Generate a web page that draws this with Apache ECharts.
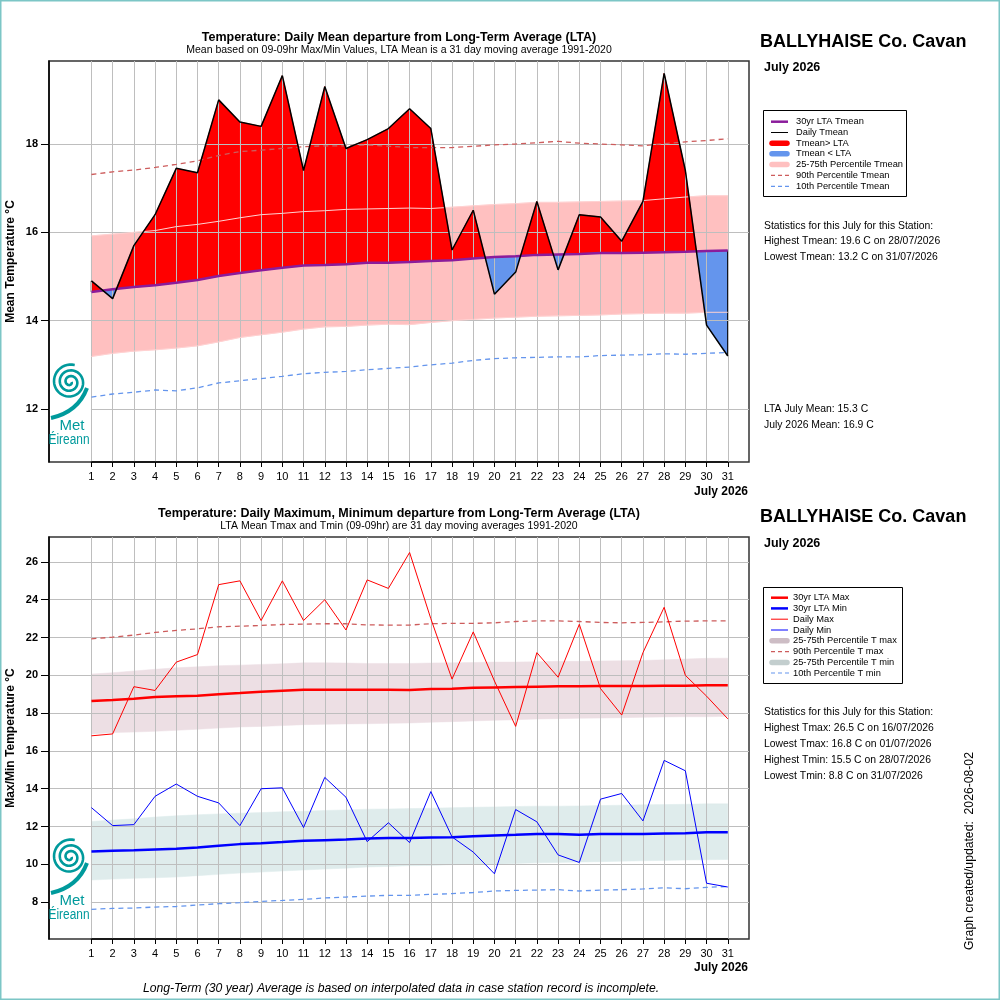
<!DOCTYPE html>
<html><head><meta charset="utf-8">
<script src="https://cdn.jsdelivr.net/npm/echarts@6/dist/echarts.min.js"></script>
<style>html,body{margin:0;padding:0;background:#fff}#c{width:1000px;height:1000px}</style>
</head><body><div id="c"></div>
<script>
// ---------------- DATA ----------------
const days = [1,2,3,4,5,6,7,8,9,10,11,12,13,14,15,16,17,18,19,20,21,22,23,24,25,26,27,28,29,30,31];

const tmeanDaily = [14.9,14.5,15.7,16.4,17.45,17.35,19.0,18.5,18.4,19.55,17.4,19.3,17.9,18.1,18.35,18.8,18.35,15.6,16.5,14.6,15.1,16.7,15.15,16.4,16.35,15.8,16.7,19.6,17.4,13.9,13.2];
const tmeanLTA = [14.65,14.71,14.76,14.80,14.86,14.92,15.01,15.08,15.14,15.20,15.25,15.26,15.28,15.31,15.31,15.33,15.35,15.37,15.41,15.44,15.46,15.49,15.50,15.51,15.53,15.53,15.54,15.55,15.56,15.58,15.59];
const tmeanP75 = [15.92,15.96,16.0,16.04,16.13,16.18,16.25,16.33,16.40,16.43,16.47,16.49,16.52,16.53,16.54,16.55,16.54,16.57,16.60,16.63,16.65,16.68,16.68,16.69,16.70,16.71,16.72,16.76,16.80,16.83,16.83];
const tmeanP25 = [13.19,13.26,13.31,13.34,13.38,13.43,13.52,13.62,13.68,13.74,13.81,13.86,13.87,13.90,13.92,13.91,13.96,14.00,14.03,14.06,14.08,14.10,14.11,14.12,14.13,14.15,14.16,14.17,14.17,14.19,14.19];
const tmeanP90 = [17.31,17.37,17.41,17.47,17.54,17.62,17.74,17.83,17.86,17.90,17.94,17.96,17.96,17.98,17.95,17.92,17.92,17.92,17.95,17.98,18.00,18.03,18.06,18.02,18.00,17.98,17.96,18.01,18.05,18.08,18.12];
const tmeanP10 = [12.27,12.34,12.38,12.43,12.41,12.48,12.59,12.64,12.69,12.74,12.80,12.83,12.85,12.89,12.92,12.95,13.00,13.04,13.10,13.14,13.16,13.17,13.18,13.18,13.21,13.22,13.23,13.25,13.24,13.26,13.28];

const tmaxDaily = [16.8,16.9,19.4,19.2,20.7,21.1,24.8,25.0,22.9,25.0,22.9,24.0,22.4,25.05,24.6,26.5,23.0,19.8,22.3,19.7,17.3,21.2,19.9,22.7,19.3,17.9,21.2,23.6,20.0,18.9,17.7];
const tminDaily = [13.0,12.05,12.1,13.6,14.25,13.6,13.25,12.05,14.0,14.05,11.95,14.6,13.55,11.2,12.2,11.15,13.85,11.45,10.65,9.5,12.9,12.25,10.5,10.1,13.45,13.75,12.3,15.5,14.95,9.0,8.8];
const tmaxLTA = [18.64,18.69,18.76,18.85,18.89,18.92,19.0,19.06,19.13,19.19,19.24,19.24,19.24,19.24,19.24,19.22,19.28,19.29,19.34,19.36,19.38,19.40,19.42,19.42,19.43,19.43,19.43,19.45,19.45,19.47,19.47];
const tminLTA = [10.68,10.72,10.75,10.79,10.82,10.89,10.98,11.07,11.12,11.18,11.25,11.28,11.31,11.37,11.39,11.39,11.42,11.44,11.49,11.53,11.56,11.60,11.60,11.56,11.60,11.60,11.60,11.63,11.65,11.70,11.70];
const tmaxP75 = [20.07,20.14,20.23,20.32,20.40,20.45,20.51,20.54,20.58,20.61,20.66,20.66,20.65,20.63,20.63,20.63,20.65,20.66,20.68,20.70,20.70,20.72,20.74,20.74,20.76,20.77,20.79,20.82,20.86,20.90,20.91];
const tmaxP25 = [16.90,16.97,17.0,17.04,17.09,17.15,17.21,17.27,17.30,17.34,17.39,17.41,17.43,17.44,17.46,17.48,17.52,17.55,17.59,17.62,17.65,17.69,17.71,17.73,17.74,17.76,17.78,17.80,17.81,17.81,17.83];
const tmaxP90 = [21.93,22.02,22.13,22.27,22.38,22.46,22.57,22.60,22.64,22.69,22.71,22.73,22.73,22.67,22.66,22.66,22.73,22.75,22.75,22.78,22.85,22.88,22.88,22.85,22.80,22.78,22.80,22.83,22.87,22.88,22.88];
const tminP75 = [12.27,12.34,12.41,12.50,12.57,12.62,12.67,12.71,12.74,12.78,12.81,12.85,12.88,12.92,12.93,12.95,12.97,13.0,13.02,13.04,13.06,13.08,13.08,13.09,13.11,13.13,13.15,13.16,13.18,13.20,13.20];
const tminP25 = [9.17,9.22,9.26,9.29,9.33,9.40,9.47,9.54,9.59,9.65,9.70,9.75,9.80,9.86,9.89,9.93,9.94,9.98,10.0,10.01,10.05,10.08,10.10,10.12,10.14,10.17,10.19,10.21,10.23,10.24,10.26];
const tminP10 = [7.62,7.67,7.69,7.74,7.77,7.85,7.92,7.97,8.04,8.09,8.15,8.22,8.27,8.32,8.36,8.36,8.41,8.45,8.51,8.59,8.62,8.64,8.66,8.59,8.64,8.66,8.70,8.76,8.71,8.78,8.83];

const yTicksTop = [12,14,16,18];
const yTicksBottom = [8,10,12,14,16,18,20,22,24,26];
const topRange = [10.8, 19.88];
const bottomRange = [6.05, 27.32];
const dayRange = [-1, 32];

const legendTop = ['30yr LTA Tmean','Daily Tmean','Tmean> LTA','Tmean < LTA','25-75th Percentile Tmean','90th Percentile Tmean','10th Percentile Tmean'];
const legendBottom = ['30yr LTA Max','30yr LTA Min','Daily Max','Daily Min','25-75th Percentile T max','90th Percentile T max','25-75th Percentile T min','10th Percentile T min'];
const statsTop = ['Statistics for this July for this Station:','Highest Tmean: 19.6 C on 28/07/2026','Lowest Tmean: 13.2 C on 31/07/2026'];
const meansTop = ['LTA July Mean: 15.3 C','July 2026 Mean: 16.9 C'];
const statsBottom = ['Statistics for this July for this Station:','Highest Tmax: 26.5 C on 16/07/2026','Lowest Tmax: 16.8 C on 01/07/2026','Highest Tmin: 15.5 C on 28/07/2026','Lowest Tmin: 8.8 C on 31/07/2026'];

// ---------------- LAYOUT ----------------
const FF = '"Liberation Sans", Arial, Helvetica, sans-serif';
const BOX_L = 49, BOX_W = 700;
const TOP1 = 61, H1 = 401, TOP2 = 537, H2 = 402;
const span = dayRange[1] - dayRange[0];
const dayL = BOX_L + (days[0] - dayRange[0]) / span * BOX_W;
const dayW = (days[days.length - 1] - days[0]) / span * BOX_W;

function dayAxis(g) {
  return {
    gridIndex: g, type: 'value', min: days[0], max: days[days.length - 1], interval: 1, z: 3,
    axisLine: { show: true, onZero: false, lineStyle: { color: '#000', width: 1.5 } },
    axisTick: { show: true, length: 5, customValues: days, lineStyle: { color: '#000', width: 1 } },
    axisLabel: { show: true, customValues: days, margin: 9, fontSize: 11, fontFamily: FF, color: '#000' },
    splitLine: { show: true, lineStyle: { color: '#BEBEBE', width: 1 } }
  };
}
function tempAxis(g, range, ticks) {
  return {
    gridIndex: g, type: 'value', min: range[0], max: range[1], z: 3,
    axisLine: { show: true, onZero: false, lineStyle: { color: '#000', width: 1.5 } },
    axisTick: { show: true, length: 8, customValues: ticks, lineStyle: { color: '#000', width: 1 } },
    axisLabel: { show: true, customValues: ticks, margin: 11, fontSize: 11, fontWeight: 'bold', fontFamily: FF, color: '#000' },
    splitLine: { show: true, lineStyle: { color: '#BEBEBE', width: 1 } }
  };
}
function hiddenAxis(g, range) {
  return { gridIndex: g, type: 'value', min: range[0], max: range[1], show: false };
}
function line(g, arr, color, width, type, z) {
  return {
    type: 'line', xAxisIndex: g, yAxisIndex: g, z: z, silent: true, clip: false,
    data: days.map((d, i) => [d, arr[i]]), showSymbol: false, symbol: 'none',
    lineStyle: { color: color, width: width, type: type }, itemStyle: { color: color }
  };
}
function bandSeries(g, upper, lower, color) {
  return {
    type: 'custom', xAxisIndex: g, yAxisIndex: g, z: 1, silent: true, data: [[days[0]]],
    renderItem: function (params, api) {
      const pts = days.map((d, i) => api.coord([d, upper[i]]));
      for (let i = days.length - 1; i >= 0; i--) pts.push(api.coord([days[i], lower[i]]));
      return { type: 'polygon', shape: { points: pts }, style: { fill: color, stroke: color, lineWidth: 0.5 } };
    }
  };
}
function fillSeries(g, daily, lta, colUp, colDown) {
  return {
    type: 'custom', xAxisIndex: g, yAxisIndex: g, z: 2, silent: true,
    data: days.slice(0, -1).map(d => [d]),
    renderItem: function (params, api) {
      const i = params.dataIndex;
      const x0 = days[i], x1 = days[i + 1];
      const a0 = daily[i], a1 = daily[i + 1], b0 = lta[i], b1 = lta[i + 1];
      const d0 = a0 - b0, d1 = a1 - b1;
      const children = [];
      const poly = (p, c) => children.push({ type: 'polygon', shape: { points: p.map(q => api.coord(q)) }, style: { fill: c, stroke: c, lineWidth: 0.6 } });
      if ((d0 >= 0 && d1 >= 0) || (d0 <= 0 && d1 <= 0)) {
        poly([[x0, a0], [x1, a1], [x1, b1], [x0, b0]], (d0 + d1) >= 0 ? colUp : colDown);
      } else {
        const t = d0 / (d0 - d1);
        const xc = x0 + t * (x1 - x0), yc = b0 + t * (b1 - b0);
        poly([[x0, a0], [xc, yc], [x0, b0]], d0 > 0 ? colUp : colDown);
        poly([[xc, yc], [x1, a1], [x1, b1]], d1 > 0 ? colUp : colDown);
      }
      const edge = (x, a, b) => {
        const p = api.coord([x, a]), q = api.coord([x, b]);
        children.push({ type: 'line', shape: { x1: p[0], y1: p[1], x2: q[0], y2: q[1] }, style: { stroke: '#000', lineWidth: 1.3 } });
      };
      if (i === 0) edge(x0, a0, b0);
      if (i === days.length - 2) edge(x1, a1, b1);
      return { type: 'group', children: children };
    }
  };
}

// --------------- GRAPHICS ---------------
const G = [];
function txt(x, y, text, font, align, rot) {
  G.push({ type: 'text', x: x, y: y, rotation: rot || 0, z: 100, silent: true,
    style: { text: text, font: font, fill: '#000', textAlign: align || 'left', align: align || 'left', textVerticalAlign: 'middle', verticalAlign: 'middle' } });
}
function seg(x1, y, x2, color, w, dash, cap) {
  G.push({ type: 'line', z: 100, silent: true, shape: { x1: x1, y1: y, x2: x2, y2: y },
    style: { stroke: color, lineWidth: w, lineDash: dash || null, lineCap: cap || 'butt' } });
}
function box(x, y, w, h) {
  G.push({ type: 'rect', z: 100, silent: true, shape: { x: x, y: y, width: w, height: h }, style: { fill: '#fff', stroke: '#000', lineWidth: 1 } });
}
function logo(cx, cy, rectTop, rectH) {
  G.push({ type: 'rect', z: 90, silent: true, shape: { x: BOX_L + 1, y: rectTop, width: dayL - BOX_L - 1.5, height: rectH }, style: { fill: '#fff', stroke: null } });
  const pts = [];
  for (let t = 0; t <= 5.6 * Math.PI; t += 0.15) {
    const r = 1.5 + t * 0.92;
    pts.push([cx + r * Math.cos(t), cy + r * Math.sin(t)]);
  }
  G.push({ type: 'polyline', z: 95, silent: true, shape: { points: pts }, style: { stroke: '#009A9C', lineWidth: 2.6, fill: null } });
  G.push({ type: 'bezierCurve', z: 95, silent: true, shape: { x1: cx + 17, y1: cy + 6, cpx1: cx + 8, cpy1: cy + 30, x2: cx - 19, y2: cy + 36 }, style: { stroke: '#009A9C', lineWidth: 4, fill: null } });
  G.push({ type: 'text', z: 95, silent: true, x: cx + 2, y: cy + 44, style: { text: 'Met', font: '15px ' + FF, fill: '#009A9C', textAlign: 'center', align: 'center', textVerticalAlign: 'middle', verticalAlign: 'middle' } });
  G.push({ type: 'text', z: 95, silent: true, x: cx - 1, y: cy + 58, scaleX: 0.85, style: { text: 'Éireann', font: '14px ' + FF, fill: '#009A9C', textAlign: 'center', align: 'center', textVerticalAlign: 'middle', verticalAlign: 'middle' } });
}

// outer border
G.push({ type: 'rect', z: 100, silent: true, shape: { x: 0.75, y: 0.75, width: 998.5, height: 998.5 }, style: { fill: null, stroke: '#7CC6C6', lineWidth: 1.5 } });

// titles
const cx = BOX_L + BOX_W / 2;
txt(cx, 38, 'Temperature: Daily Mean departure from Long-Term Average (LTA)', 'bold 12.5px ' + FF, 'center');
txt(cx, 50, 'Mean based on 09-09hr Max/Min Values, LTA Mean is a 31 day moving average 1991-2020', '10.5px ' + FF, 'center');
txt(cx, 514, 'Temperature: Daily Maximum, Minimum departure from Long-Term Average (LTA)', 'bold 12.5px ' + FF, 'center');
txt(cx, 526.5, 'LTA Mean Tmax and Tmin (09-09hr) are 31 day moving averages 1991-2020', '10.5px ' + FF, 'center');
txt(11, TOP1 + H1 / 2, 'Mean Temperature °C', 'bold 12px ' + FF, 'center', Math.PI / 2);
txt(11, TOP2 + H2 / 2, 'Max/Min Temperature °C', 'bold 12px ' + FF, 'center', Math.PI / 2);
txt(748, 491.5, 'July 2026', 'bold 12px ' + FF, 'right');
txt(748, 968, 'July 2026', 'bold 12px ' + FF, 'right');
txt(760, 42, 'BALLYHAISE Co. Cavan', 'bold 18px ' + FF, 'left');
txt(764, 68, 'July 2026', 'bold 12.5px ' + FF, 'left');
txt(760, 517, 'BALLYHAISE Co. Cavan', 'bold 18px ' + FF, 'left');
txt(764, 543.5, 'July 2026', 'bold 12.5px ' + FF, 'left');
txt(401, 989, 'Long-Term (30 year) Average is based on interpolated data in case station record is incomplete.', 'italic 12.2px ' + FF, 'center');
txt(970, 851, 'Graph created/updated:  2026-08-02', '12.2px ' + FF, 'center', Math.PI / 2);

// top legend
box(763.5, 110.5, 143, 86);
const lyT = [121.7, 132.5, 143.2, 153.8, 164.5, 175.4, 186.3];
seg(771, lyT[0], 788, '#8B1C9B', 2.5);
seg(771, lyT[1], 788, '#000', 1);
seg(772, lyT[2], 787, '#FF0000', 5.5, null, 'round');
seg(772, lyT[3], 787, '#6495ED', 5.5, null, 'round');
seg(772, lyT[4], 787, '#FFC0C0', 5.5, null, 'round');
seg(771, lyT[5], 789, '#CD5C5C', 1.2, [4, 3]);
seg(771, lyT[6], 789, '#6495ED', 1.2, [4, 3]);
legendTop.forEach((s, i) => txt(796, lyT[i], s, '9.3px ' + FF, 'left'));
statsTop.forEach((s, i) => txt(764, 226 + i * 15.5, s, '10.4px ' + FF, 'left'));
meansTop.forEach((s, i) => txt(764, 409.5 + i * 15.5, s, '10.4px ' + FF, 'left'));

// bottom legend
box(763.5, 587.5, 139, 96);
const lyB = [597.7, 608.4, 619.2, 630.0, 640.8, 651.6, 662.4, 673.0];
seg(771, lyB[0], 788, '#FF0000', 2.5);
seg(771, lyB[1], 788, '#0000FF', 2.5);
seg(771, lyB[2], 788, '#FF0000', 1);
seg(771, lyB[3], 788, '#0000FF', 1);
seg(772, lyB[4], 787, '#CDBDC5', 5.5, null, 'round');
seg(771, lyB[5], 789, '#CD5C5C', 1.2, [4, 3]);
seg(772, lyB[6], 787, '#C3CECE', 5.5, null, 'round');
seg(771, lyB[7], 789, '#6495ED', 1.2, [4, 3]);
legendBottom.forEach((s, i) => txt(793, lyB[i], s, '9.3px ' + FF, 'left'));
statsBottom.forEach((s, i) => txt(764, 712 + i * 16, s, '10.4px ' + FF, 'left'));

// logos
logo(70, 382, 355, 93);
logo(70, 857, 830, 93);

// --------------- CHART ---------------
const chart = echarts.init(document.getElementById('c'), null, { renderer: 'canvas' });
const gridBase = { containLabel: false, outerBoundsMode: 'none' };
chart.setOption({
  animation: false,
  backgroundColor: '#fff',
  grid: [
    Object.assign({ left: BOX_L, top: TOP1, width: BOX_W, height: H1, show: true, borderColor: '#333', borderWidth: 1.5, backgroundColor: '#fff' }, gridBase),
    Object.assign({ left: dayL, top: TOP1, width: dayW, height: H1 }, gridBase),
    Object.assign({ left: BOX_L, top: TOP2, width: BOX_W, height: H2, show: true, borderColor: '#333', borderWidth: 1.5, backgroundColor: '#fff' }, gridBase),
    Object.assign({ left: dayL, top: TOP2, width: dayW, height: H2 }, gridBase)
  ],
  xAxis: [hiddenAxis(0, dayRange), dayAxis(1), hiddenAxis(2, dayRange), dayAxis(3)],
  yAxis: [tempAxis(0, topRange, yTicksTop), hiddenAxis(1, topRange), tempAxis(2, bottomRange, yTicksBottom), hiddenAxis(3, bottomRange)],
  series: [
    bandSeries(0, tmeanP75, tmeanP25, '#FFC0C0'),
    fillSeries(0, tmeanDaily, tmeanLTA, '#FF0000', '#6495ED'),
    line(0, tmeanP75, '#FFD2D2', 1, 'solid', 4),
    line(0, tmeanP25, '#FFD2D2', 1, 'solid', 4),
    line(0, tmeanP90, '#CD5C5C', 1.3, [5, 4], 5),
    line(0, tmeanP10, '#6495ED', 1.3, [5, 4], 5),
    line(0, tmeanLTA, '#8B1C9B', 2.5, 'solid', 6),
    line(0, tmeanDaily, '#000000', 1.5, 'solid', 7),

    bandSeries(2, tmaxP75, tmaxP25, '#EDDFE4'),
    bandSeries(2, tminP75, tminP25, '#DFECEC'),
    line(2, tmaxP90, '#CD5C5C', 1.3, [5, 4], 5),
    line(2, tminP10, '#6495ED', 1.3, [5, 4], 5),
    line(2, tmaxLTA, '#FF0000', 2.5, 'solid', 6),
    line(2, tminLTA, '#0000FF', 2.5, 'solid', 6),
    line(2, tmaxDaily, '#FF0000', 1, 'solid', 7),
    line(2, tminDaily, '#0000FF', 1, 'solid', 7)
  ],
  graphic: { elements: G }
});
</script></body></html>
